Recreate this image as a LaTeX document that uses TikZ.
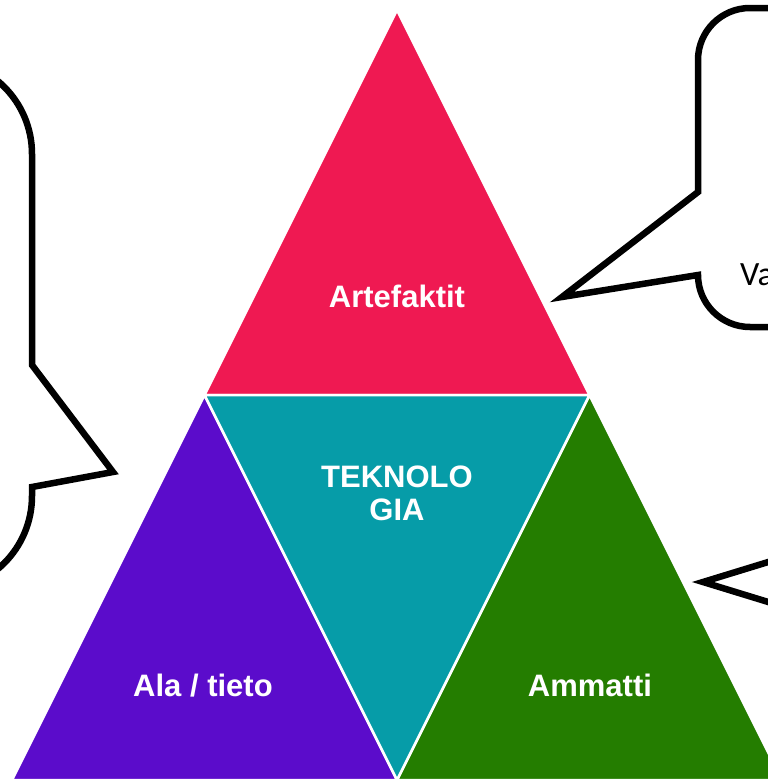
\documentclass[tikz,border=0pt]{standalone}
\usepackage{fontspec}
\setmainfont{Liberation Sans}
\newfontfamily\bubblefont{Carlito}
\definecolor{artred}{RGB}{239,25,82}
\definecolor{tekteal}{RGB}{6,156,168}
\definecolor{alapurple}{RGB}{91,12,203}
\definecolor{ammgreen}{RGB}{36,125,0}
\tikzset{
  part/.style={draw=white, line width=2.5pt, line join=miter},
  lbl/.style={text=white, font=\bfseries\fontsize{31}{33}\selectfont, align=center, inner sep=0pt},
  bubble/.style={draw=black, fill=white, line width=6.5pt, line join=miter}
}
\begin{document}
\begin{tikzpicture}[x=1pt,y=-1pt]
\useasboundingbox (0,0) rectangle (768,779);
\clip (0,0) rectangle (768,779);

\coordinate (apex) at (397,10);
\coordinate (ml) at (204.5,395);
\coordinate (mr) at (589.5,395);
\coordinate (bl) at (12,780);
\coordinate (bm) at (397,780);
\coordinate (br) at (782,780);

% the four parts
\filldraw [part, fill=artred] (apex) -- (ml) -- (mr) -- cycle;
\filldraw [part, fill=alapurple] (ml) -- (bl) -- (bm) -- cycle;
\filldraw [part, fill=ammgreen] (mr) -- (bm) -- (br) -- cycle;
\filldraw [part, fill=tekteal] (ml) -- (mr) -- (bm) -- cycle;

\node [lbl, anchor=base] (artefaktit) at (397,307) {Artefaktit};
\node [lbl, anchor=base] (teknologia) at (397,520) {TEKNOLO\\GIA};
\node [lbl, anchor=base] (alatieto) at (203,696) {Ala / tieto};
\node [lbl, anchor=base] (ammatti) at (590,696) {Ammatti};

% callouts
\def \r{52};
\draw [bubble] (698,192) -- (698,8+\r) arc[start angle=180, end angle=270, radius=\r]
  -- (900,8) -- (900,327) -- (698+\r,327) arc[start angle=90, end angle=180, radius=\r]
  -- (698,275) -- (562,297) -- cycle;
\node [anchor=base west, inner sep=0pt, font=\bubblefont\fontsize{34}{40}\selectfont] (va) at (740,285) {Va};

\def \q{95};
\draw [bubble] (32,365) -- (32,154) arc[start angle=0, end angle=-90, radius=\q]
  -- (-300,59) -- (-300,591) -- (32-\q,591) arc[start angle=90, end angle=0, radius=\q]
  -- (32,487) -- (113,472) -- cycle;

\draw [bubble] (840,540) -- (703,582) -- (840,624);
\end{tikzpicture}
\end{document}
